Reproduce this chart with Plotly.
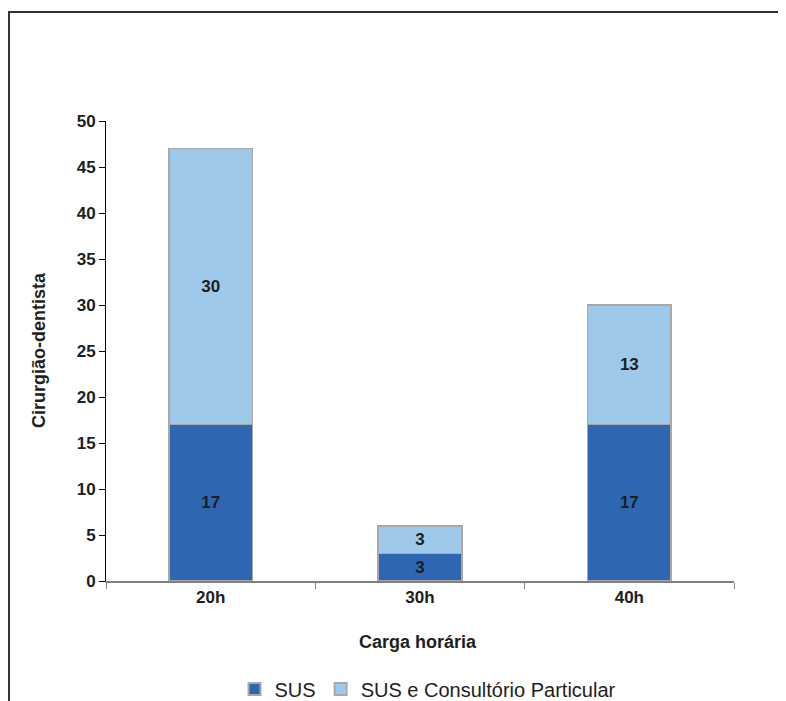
import plotly.graph_objects as go

categories = ["20h", "30h", "40h"]
sus = [17, 3, 17]
sus_particular = [30, 3, 13]
y_ticks = [0, 5, 10, 15, 20, 25, 30, 35, 40, 45, 50]

FONT = "Arial, 'Liberation Sans', Helvetica, sans-serif"
TXT = "#1e1e1e"

OFF = 8  # page body margin
W, H = 786, 701
# plot area in screen pixels
SX0, SX1, SY0, SY1 = 106, 734, 121, 581
L = SX0 - OFF
T = SY0 - OFF
R = W - (SX1 - OFF)
B = H - (SY1 - OFF)
pw, ph = SX1 - SX0, SY1 - SY0

def px(x):
    return (x - SX0) / pw

def py(y):
    return (SY1 - y) / ph

fig = go.Figure()
fig.add_trace(go.Bar(
    x=categories, y=sus, name="SUS",
    marker=dict(color="#2E66B1", line=dict(color="#A8A8A8", width=1.5)),
    text=[str(v) for v in sus], textposition="inside", insidetextanchor="middle",
    textfont=dict(family=FONT, size=17, color=TXT, weight="bold"),
    constraintext="none",
))
fig.add_trace(go.Bar(
    x=categories, y=sus_particular, name="SUS e Consultório Particular",
    marker=dict(color="#9FC9EB", line=dict(color="#A8A8A8", width=1.5)),
    text=[str(v) for v in sus_particular], textposition="inside", insidetextanchor="middle",
    textfont=dict(family=FONT, size=17, color=TXT, weight="bold"),
    constraintext="none",
))

fig.update_layout(
    barmode="stack",
    bargap=0.6,
    width=W, height=H,
    margin=dict(l=L, r=R, t=T, b=B, autoexpand=False),
    paper_bgcolor="white", plot_bgcolor="white",
    font=dict(family=FONT, color=TXT),
    uniformtext=dict(mode=False),
    showlegend=True,
    legend=dict(
        orientation="h", x=px(428), xanchor="center", y=py(689), yanchor="middle",
        font=dict(family=FONT, size=20, color=TXT),
        itemsizing="constant", traceorder="normal", itemwidth=30,
    ),
    xaxis=dict(
        type="category", showgrid=False, showline=True, linecolor="#808080", linewidth=1.5,
        ticks="outside", tickson="boundaries", ticklen=6, tickcolor="#808080", tickwidth=1,
        tickfont=dict(family=FONT, size=17, color=TXT, weight="bold"),
        zeroline=False,
    ),
    yaxis=dict(
        range=[0, 50], tickvals=y_ticks, showgrid=False, showline=True,
        linecolor="#000000", linewidth=1, ticks="outside", ticklen=6, tickcolor="#000000",
        tickfont=dict(family=FONT, size=17, color=TXT, weight="bold"),
        zeroline=False,
    ),
    shapes=[
        dict(type="rect", xref="paper", yref="paper",
             x0=px(9), x1=px(820), y0=py(760), y1=py(12),
             line=dict(color="#333333", width=2), fillcolor="rgba(0,0,0,0)", layer="below"),
    ],
    annotations=[
        dict(text="Carga horária", xref="paper", yref="paper", x=px(418), y=py(642),
             xanchor="center", yanchor="middle", showarrow=False,
             font=dict(family=FONT, size=18, color=TXT, weight="bold")),
        dict(text="Cirurgião-dentista", xref="paper", yref="paper", x=px(39), y=py(350),
             xanchor="center", yanchor="middle", showarrow=False, textangle=-90,
             font=dict(family=FONT, size=18, color=TXT, weight="bold")),
    ],
)

fig.write_html("out.html")
